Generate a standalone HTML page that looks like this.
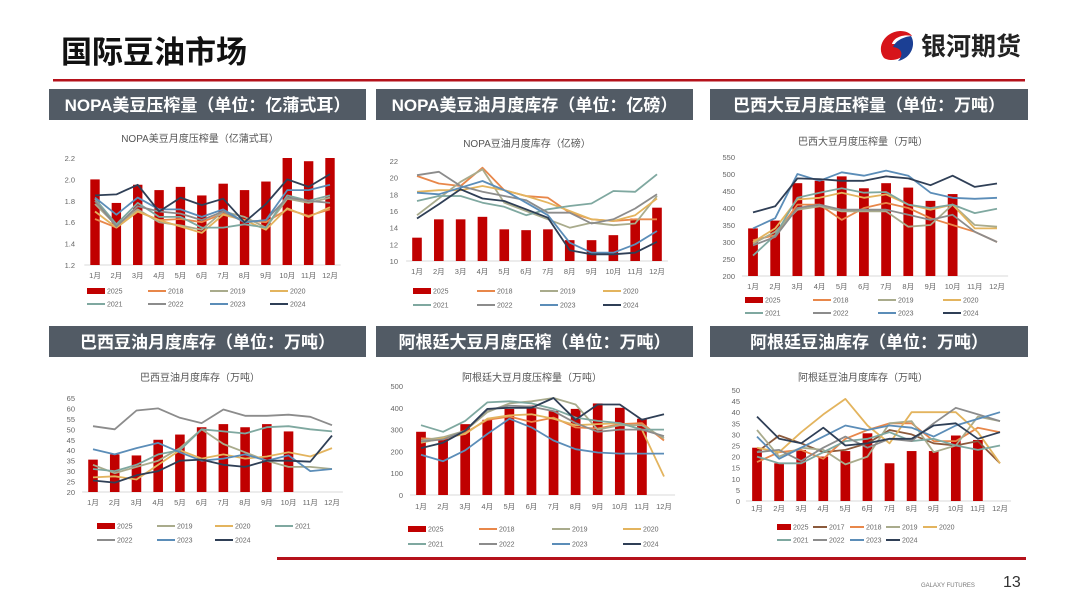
<!DOCTYPE html>
<html><head><meta charset="utf-8">
<style>
html,body{margin:0;padding:0;background:#fff;}
svg{display:block;font-family:"Liberation Sans","Noto Sans CJK SC",sans-serif;}
</style></head>
<body>
<svg id="page" width="1080" height="608" viewBox="0 0 1080 608" xmlns="http://www.w3.org/2000/svg">
<rect width="1080" height="608" fill="#fff"/>
<text x="61" y="63" font-size="31" font-weight="bold" fill="#111" font-family="'Liberation Sans','Noto Sans CJK SC',sans-serif">国际豆油市场</text>
<g>
<path d="M884 58 C876 48 884 32 900 31 C906 31 910 33 912 36 C904 34 894 37 892 44 C900 44 906 47 906 52 C902 60 890 62 884 58Z" fill="#d7141a"/>
<path d="M911 36 C916 44 912 58 898 61 C904 55 902 48 893 47 C896 40 904 37 911 36Z" fill="#1b3f94"/>
<text x="921" y="55" font-size="25" font-weight="bold" fill="#222">银河期货</text>
</g>
<rect x="53" y="79" width="972" height="2.5" fill="#b5121b"/>
<g id="headers"></g>
<g id="charts"></g>
<rect x="277" y="557" width="749" height="3" fill="#b5121b"/>
<text x="921" y="587" font-size="6" fill="#777">GALAXY FUTURES</text>
<text x="1003" y="587" font-size="16" fill="#333">13</text>
</svg>
<script>
const months = ["1月","2月","3月","4月","5月","6月","7月","8月","9月","10月","11月","12月"];
// Chart 1: NOPA crush
const c1Ticks = ["1.2","1.4","1.6","1.8","2.0","2.2"];
const c1Bars = [2.0,1.78,1.95,1.9,1.93,1.85,1.96,1.9,1.98,2.2,2.17,2.2];
const c1_2018 = [1.63,1.55,1.70,1.62,1.63,1.60,1.68,1.62,1.60,1.72,1.66,1.72];
const c1_2019 = [1.77,1.57,1.72,1.60,1.57,1.53,1.70,1.65,1.55,1.82,1.78,1.83];
const c1_2020 = [1.70,1.55,1.70,1.62,1.56,1.50,1.67,1.62,1.53,1.73,1.65,1.74];
const c1_2021 = [1.82,1.58,1.78,1.65,1.65,1.55,1.55,1.58,1.55,1.85,1.80,1.85];
const c1_2022 = [1.80,1.56,1.75,1.70,1.68,1.62,1.70,1.60,1.62,1.83,1.80,1.78];
const c1_2023 = [1.83,1.67,1.83,1.72,1.72,1.65,1.72,1.60,1.62,1.90,1.90,1.95];
const c1_2024 = [1.85,1.86,1.95,1.70,1.83,1.76,1.82,1.60,1.77,2.0,1.93,2.05];
// Chart 2: NOPA soyoil stocks
const c2Ticks = ["10","12","14","16","18","20","22"];
const c2Bars = [12.8,15,15,15.3,13.8,13.7,13.8,12.5,12.5,13.1,15.1,16.4];
const c2_2018 = [20.2,19.3,19.0,21.2,18.5,17.8,17.6,15.8,15.0,14.8,15.0,15.0];
const c2_2019 = [15.5,17.5,19.5,21.0,17.0,16.0,15.0,14.0,14.6,14.3,14.5,17.8];
const c2_2020 = [18.3,18.5,18.5,19.0,18.5,17.8,17.0,16.0,15.0,14.8,15.5,17.5];
const c2_2021 = [17.2,17.8,17.8,17.0,16.5,15.5,16.2,16.6,16.9,18.4,18.3,20.4];
const c2_2022 = [20.3,20.7,19.0,18.3,17.8,17.3,15.8,15.8,14.5,15.0,16.3,18.0];
const c2_2023 = [18.2,18.0,18.8,19.6,18.5,17.0,15.5,12.2,11.0,11.0,12.0,13.6];
const c2_2024 = [15.1,16.8,18.6,17.5,17.2,16.2,15.2,11.3,10.8,10.8,11.0,12.3];
// Chart 3: Brazil crush
const c3Ticks = ["200","250","300","350","400","450","500","550"];
const c3Bars = [340,363,473,480,493,458,473,460,421,441,null,null];
const c3_2018 = [305,320,410,410,365,400,415,400,370,350,330,300];
const c3_2019 = [295,330,395,405,390,390,390,345,350,410,350,345];
const c3_2020 = [300,340,425,430,445,430,440,410,395,410,340,340];
const c3_2021 = [260,320,430,445,458,445,447,410,400,410,385,398];
const c3_2022 = [290,315,400,410,395,395,395,380,365,380,330,300];
const c3_2023 = [340,370,500,480,505,495,510,495,445,430,427,430];
const c3_2024 = [387,405,487,485,480,480,493,487,467,495,462,472];
// Chart 4: Brazil soyoil stocks
const c4Ticks = ["20","25","30","35","40","45","50","55","60","65"];
const c4Bars = [35.5,38,37.5,45,47.5,51,52.5,51,52.5,49,null,null];
const c4_2019 = [33,29,32,35,41,50,43,39,35,32,32,31];
const c4_2020 = [27,27.5,26,33,40,36,38,36,37,39,37,41];
const c4_2021 = [31,30,33,38,40,50,49,48,51,51.5,50,49];
const c4_2022 = [51.5,50,59,60,55.5,53,59.5,56.5,56.5,57,56,52];
const c4_2023 = [40.5,38,41,43.5,39,35,36,38,35,37.5,30,31];
const c4_2024 = [25.5,24.5,28,30,35,35.5,33,32,35,35,34.5,47];
// Chart 5: Argentina crush
const c5Ticks = ["0","100","200","300","400","500"];
const c5Bars = [290,265,325,345,395,410,385,395,420,400,350,null];
const c5_2018 = [260,255,285,345,360,335,355,310,305,325,330,250];
const c5_2019 = [250,265,295,380,420,430,445,415,300,320,320,260];
const c5_2020 = [240,260,280,350,365,370,350,320,325,330,300,85];
const c5_2021 = [320,290,340,425,430,420,395,355,340,330,300,300];
const c5_2022 = [245,255,295,390,410,405,385,330,290,300,300,270];
const c5_2023 = [185,155,205,280,350,310,250,210,195,190,190,190];
const c5_2024 = [215,240,295,395,400,400,445,345,415,415,345,370];
// Chart 6: Argentina soyoil stocks
const c6Ticks = ["0","5","10","15","20","25","30","35","40","45","50"];
const c6Bars = [24,17,23,20,22.5,30.5,17,22.5,22.5,29.5,27.5,null];
const c6_2017 = [22,29.5,26,22,23,26,32,30,26,25,27,17];
const c6_2018 = [17.5,22,23,19,28,32,35,35,27,27,33,31];
const c6_2019 = [32,20,24,23,16.5,20,35,36,22,25,38,36];
const c6_2020 = [24,22,31,39,46,34,26,40,40,40,31,17];
const c6_2021 = [20,17,17,22,27,28,31,27,28,25,23,25];
const c6_2022 = [22,23,18,24,29,24,28,27,35,42,39,36];
const c6_2023 = [29,19,24,29,34,32,34,33,29,34,37,40];
const c6_2024 = [38,28,26,33,25,26,28,28,34,35,28,31];

const COL = {"2017":"#8b5a3c","2018":"#e8874a","2019":"#a9ab8c","2020":"#e3b45e","2021":"#7fa8a0","2022":"#8c8c8c","2023":"#5b8db8","2024":"#2f3f56"};
const NS = "http://www.w3.org/2000/svg";
function mk(tag, attrs, parent){const e=document.createElementNS(NS,tag);for(const k in attrs)e.setAttribute(k,attrs[k]);parent.appendChild(e);return e;}

const headers = [
 ["NOPA美豆压榨量（单位：亿蒲式耳）",49,89,317],
 ["NOPA美豆油月度库存（单位：亿磅）",376,89,317],
 ["巴西大豆月度压榨量（单位：万吨）",710,89,318],
 ["巴西豆油月度库存（单位：万吨）",49,326,317],
 ["阿根廷大豆月度压榨（单位：万吨）",376,326,317],
 ["阿根廷豆油库存（单位：万吨）",710,326,318]];
const hg=document.getElementById('headers');
headers.forEach(h=>{
  const g=mk('g',{},hg);
  
  
  mk('rect',{x:h[1],y:h[2],width:h[3],height:31,fill:'#525b65'},g);
  const t=mk('text',{x:h[1]+h[3]/2,y:h[2]+22,'text-anchor':'middle','font-size':17,'font-weight':'bold',fill:'#fff'},g);
  t.textContent=h[0];
});

const charts = [
 {name:'nopa-crush',title:'NOPA美豆月度压榨量（亿蒲式耳）',tx:200,ty:142,ticks:c1Ticks,ymin:1.2,ymax:2.2,ylx:75,yTop:158,yBot:265,x0:95,x1:330,xly:278,bars:c1Bars,
  series:[["2018",c1_2018],["2019",c1_2019],["2020",c1_2020],["2021",c1_2021],["2022",c1_2022],["2023",c1_2023],["2024",c1_2024]],
  legX:[87,148,210,270],legY:[291,304]},
 {name:'nopa-oil-stocks',title:'NOPA豆油月度库存（亿磅）',tx:527,ty:147,ticks:c2Ticks,ymin:10,ymax:22,ylx:398,yTop:161,yBot:261,x0:417,x1:657,xly:274,bars:c2Bars,
  series:[["2018",c2_2018],["2019",c2_2019],["2020",c2_2020],["2021",c2_2021],["2022",c2_2022],["2023",c2_2023],["2024",c2_2024]],
  legX:[413,477,540,603],legY:[291,305]},
 {name:'brazil-crush',title:'巴西大豆月度压榨量（万吨）',tx:863,ty:145,ticks:c3Ticks,ymin:200,ymax:550,ylx:735,yTop:157,yBot:276,x0:753,x1:997,xly:289,bars:c3Bars,
  series:[["2018",c3_2018],["2019",c3_2019],["2020",c3_2020],["2021",c3_2021],["2022",c3_2022],["2023",c3_2023],["2024",c3_2024]],
  legX:[745,813,878,943],legY:[300,313]},
 {name:'brazil-oil-stocks',title:'巴西豆油月度库存（万吨）',tx:200,ty:381,ticks:c4Ticks,ymin:20,ymax:65,ylx:75,yTop:398,yBot:492,x0:93,x1:332,xly:505,bars:c4Bars,
  series:[["2019",c4_2019],["2020",c4_2020],["2021",c4_2021],["2022",c4_2022],["2023",c4_2023],["2024",c4_2024]],
  legX:[97,157,215,275],legY:[526,540]},
 {name:'argentina-crush',title:'阿根廷大豆月度压榨量（万吨）',tx:532,ty:381,ticks:c5Ticks,ymin:0,ymax:500,ylx:403,yTop:386,yBot:495,x0:421,x1:664,xly:509,bars:c5Bars,
  series:[["2018",c5_2018],["2019",c5_2019],["2020",c5_2020],["2021",c5_2021],["2022",c5_2022],["2023",c5_2023],["2024",c5_2024]],
  legX:[408,479,552,623],legY:[529,544]},
 {name:'argentina-oil-stocks',title:'阿根廷豆油月度库存（万吨）',tx:863,ty:381,ticks:c6Ticks,ymin:0,ymax:50,ylx:740,yTop:390,yBot:501,x0:757,x1:1000,xly:511,bars:c6Bars,
  series:[["2017",c6_2017],["2018",c6_2018],["2019",c6_2019],["2020",c6_2020],["2021",c6_2021],["2022",c6_2022],["2023",c6_2023],["2024",c6_2024]],
  legX:[777,813,850,886,923],legY:[527,540],compact:true}
];

const cg=document.getElementById('charts');
charts.forEach(c=>{
  const g=mk('g',{},cg);
  
  
  const step=(c.x1-c.x0)/11;
  const X=i=>c.x0+i*step;
  const Y=v=>c.yBot-(v-c.ymin)/(c.ymax-c.ymin)*(c.yBot-c.yTop);
  const t=mk('text',{x:c.tx,y:c.ty,'text-anchor':'middle','font-size':10,fill:'#555'},g);
  
  
  t.textContent=c.title;
  c.ticks.forEach(tk=>{
    const v=parseFloat(tk);
    const tl=mk('text',{x:c.ylx,y:Y(v)+3,'text-anchor':'end','font-size':7.5,fill:'#666'},g);
    
    
    tl.textContent=tk;
  });
  const ax=mk('line',{x1:c.x0-step/2,x2:c.x1+step/2,y1:c.yBot,y2:c.yBot,stroke:'#d9d9d9','stroke-width':1},g);
  
  
  months.forEach((m,i)=>{
    const ml=mk('text',{x:X(i),y:c.xly,'text-anchor':'middle','font-size':7.5,fill:'#666'},g);
    
    
    ml.textContent=m;
  });
  const bw=step*0.44;
  c.bars.forEach((v,i)=>{
    if(v==null)return;
    const r=mk('rect',{x:X(i)-bw/2,y:Y(v),width:bw,height:c.yBot-Y(v),fill:'#c00000'},g);
    
    
  });
  c.series.forEach(s=>{
    const pts=s[1].map((v,i)=>X(i).toFixed(1)+','+Y(v).toFixed(1)).join(' ');
    const p=mk('polyline',{points:pts,fill:'none',stroke:COL[s[0]],'stroke-width':1.8,'stroke-linejoin':'round'},g);
    
    
  });
  const entries=[["2025",null]].concat(c.series);
  const per=c.legX.length;
  entries.forEach((e,k)=>{
    const row=Math.floor(k/per), col=k%per;
    const lx=c.legX[col], ly=c.legY[row];
    const sw=c.compact?14:18;
    const lg=mk('g',{},g);
    
    
    if(e[1]==null) mk('rect',{x:lx,y:ly-3,width:sw,height:6,fill:'#c00000'},lg);
    else mk('line',{x1:lx,x2:lx+sw,y1:ly,y2:ly,stroke:COL[e[0]],'stroke-width':2},lg);
    const lt=mk('text',{x:lx+sw+2,y:ly+2.5,'font-size':7,fill:'#666'},lg);
    lt.textContent=e[0];
  });
});
</script>
</body></html>
